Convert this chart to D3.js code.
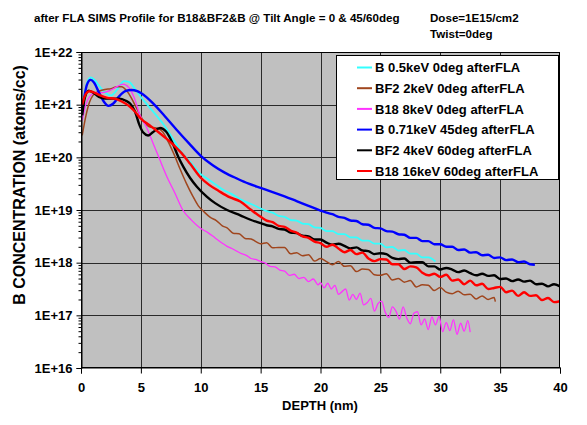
<!DOCTYPE html>
<html>
<head>
<meta charset="utf-8">
<script src="https://cdn.jsdelivr.net/npm/d3@7"></script>
<style>
  html, body { margin: 0; padding: 0; background: #ffffff; }
  svg { display: block; }
  text { font-family: "Liberation Sans", Arial, Helvetica, sans-serif; font-weight: bold; fill: #000; }
</style>
</head>
<body>
<svg id="chart" width="587" height="425"></svg>
<script>
// SIMS boron profiles after FLA: depth (nm) vs concentration (atoms/cc)

const seriesNames = [
  "B 0.5keV 0deg afterFLA",
  "BF2 2keV 0deg afterFLA",
  "B18 8keV 0deg afterFLA",
  "B 0.71keV 45deg afterFLA",
  "BF2 4keV 60deg afterFLA",
  "B18 16keV 60deg afterFLA"
];
const seriesColors = ["#33ffff", "#a0461e", "#ff33ff", "#0000ff", "#000000", "#ff0000"];
const seriesWidths = [1.8, 1.5, 1.3, 2.4, 2.4, 2.4];

const xTicks = [0, 5, 10, 15, 20, 25, 30, 35, 40];
const yTicks = [1e16, 1e17, 1e18, 1e19, 1e20, 1e21, 1e22];

// [depth nm, concentration atoms/cc]
const b05keV0deg = [
  [0.1, 8.0e20], [0.3, 1.6e21], [0.5, 2.6e21], [0.8, 3.3e21], [1.1, 3.0e21], [1.5, 2.3e21],
  [2.0, 1.7e21], [2.5, 1.5e21], [3.0, 1.9e21], [3.6, 2.8e21], [4.0, 2.7e21], [4.5, 2.0e21],
  [5.0, 1.4e21], [5.7, 9.0e20], [6.3, 6.2e20], [7.0, 3.9e20], [7.7, 2.2e20], [8.4, 1.25e20],
  [9.1, 8.3e19], [10.0, 4.8e19], [10.5, 4.0e19], [11.2, 3.1e19], [11.9, 2.4e19], [12.6, 2.0e19],
  [13.3, 1.6e19], [14.2, 1.3e19], [15.0, 1.07e19], [15.5, 9.55e18], [16.0, 8.91e18], [16.5, 7.76e18],
  [17.0, 7.41e18], [17.5, 6.46e18], [18.0, 6.31e18], [18.5, 5.50e18], [19.0, 5.37e18], [19.5, 4.68e18],
  [20.0, 4.57e18], [20.5, 3.98e18], [21.0, 3.98e18], [21.5, 3.47e18], [22.0, 3.47e18], [22.5, 3.02e18],
  [23.0, 3.02e18], [23.5, 2.63e18], [24.0, 2.63e18], [24.5, 2.29e18], [25.0, 2.29e18], [25.5, 1.95e18],
  [26.0, 2.00e18], [26.5, 1.70e18], [27.0, 1.74e18], [27.5, 1.48e18], [28.0, 1.48e18], [28.5, 1.26e18],
  [29.0, 1.26e18], [29.6, 1.05e18]
];

const bf22keV0deg = [
  [0.1, 2.6e20], [0.4, 6.0e20], [0.7, 1.1e21], [1.0, 1.5e21], [1.5, 1.8e21], [2.0, 1.95e21],
  [2.5, 2.0e21], [3.0, 2.2e21], [3.4, 2.2e21], [3.8, 1.85e21], [4.2, 1.35e21], [4.7, 8.0e20],
  [5.2, 5.0e20], [5.7, 3.8e20], [6.3, 3.6e20], [6.8, 3.1e20], [7.3, 1.95e20], [7.8, 1.1e20],
  [8.3, 5.8e19], [8.8, 3.2e19], [9.3, 1.9e19], [9.8, 1.2e19], [10.3, 9.12e18], [10.8, 7.24e18],
  [11.3, 6.31e18], [11.8, 5.01e18], [12.2, 4.57e18], [12.7, 3.63e18], [13.2, 3.55e18], [13.7, 2.88e18],
  [14.2, 2.82e18], [14.6, 2.51e18], [15.0, 2.29e18], [15.5, 2.40e18], [16.0, 1.91e18], [16.5, 1.95e18],
  [17.0, 1.95e18], [17.5, 1.48e18], [18.0, 1.55e18], [18.5, 1.35e18], [19.0, 1.41e18], [19.5, 1.07e18],
  [20.0, 1.20e18], [20.5, 1.05e18], [21.0, 9.12e17], [21.5, 1.05e18], [22.0, 8.51e17], [22.5, 8.71e17],
  [23.0, 6.76e17], [23.5, 7.59e17], [24.0, 7.41e17], [24.5, 5.89e17], [25.0, 5.75e17], [25.5, 6.17e17],
  [26.0, 4.68e17], [26.5, 5.01e17], [27.0, 4.27e17], [27.5, 4.57e17], [28.0, 3.47e17], [28.5, 3.80e17],
  [29.0, 3.72e17], [29.5, 2.95e17], [30.0, 3.39e17], [30.5, 2.75e17], [31.0, 2.57e17], [31.5, 2.88e17],
  [32.0, 2.45e17], [32.5, 2.51e17], [33.0, 2.04e17], [33.5, 2.34e17], [34.0, 2.00e17], [34.5, 2.19e17],
  [34.6, 1.82e17]
];

const b188keV0deg = [
  [0.1, 5.0e20], [0.4, 1.0e21], [0.8, 1.5e21], [1.2, 1.7e21], [1.8, 1.7e21], [2.4, 1.85e21],
  [3.0, 2.2e21], [3.5, 2.45e21], [4.0, 2.1e21], [4.5, 1.25e21], [4.9, 6.5e20], [5.5, 3.6e20],
  [6.0, 1.9e20], [6.5, 1.0e20], [7.3, 3.7e19], [7.8, 2.2e19], [8.5, 1.0e19], [9.2, 6.5e18],
  [10.0, 4.47e18], [10.6, 3.72e18], [11.2, 2.95e18], [11.8, 2.34e18], [12.2, 2.04e18], [12.6, 1.86e18],
  [13.0, 1.66e18], [13.4, 1.48e18], [13.8, 1.38e18], [14.2, 1.20e18], [14.6, 1.15e18], [15.0, 1.05e18],
  [15.4, 9.77e17], [15.8, 8.51e17], [16.2, 8.32e17], [16.6, 7.24e17], [17.0, 6.92e17], [17.4, 5.75e17],
  [17.8, 6.03e17], [18.2, 5.01e17], [18.6, 5.25e17], [19.0, 4.37e17], [19.4, 4.90e17], [19.8, 3.80e17],
  [20.0, 4.17e17], [20.3, 3.31e17], [20.6, 4.07e17], [20.9, 3.16e17], [21.2, 3.72e17], [21.5, 2.51e17],
  [21.8, 2.82e17], [22.1, 3.16e17], [22.4, 1.95e17], [22.7, 2.51e17], [23.0, 2.00e17], [23.3, 2.63e17],
  [23.6, 1.58e17], [23.9, 1.74e17], [24.2, 2.09e17], [24.5, 1.20e17], [24.8, 1.66e17], [25.1, 1.86e17],
  [25.4, 1.15e17], [25.7, 9.12e16], [26.0, 1.45e17], [26.3, 1.20e17], [26.6, 8.51e16], [26.9, 1.45e17],
  [27.2, 8.91e16], [27.5, 6.92e16], [27.8, 1.10e17], [28.1, 1.17e17], [28.4, 6.61e16], [28.7, 8.51e16],
  [29.0, 5.37e16], [29.3, 9.33e16], [29.6, 6.61e16], [29.9, 9.55e16], [30.2, 4.90e16], [30.5, 7.24e16],
  [30.8, 5.13e16], [31.1, 8.32e16], [31.4, 4.37e16], [31.7, 7.08e16], [32.0, 5.01e16], [32.3, 7.94e16],
  [32.5, 4.79e16]
];

const b071keV45deg = [
  [0.1, 7.4e20], [0.3, 1.5e21], [0.5, 2.4e21], [0.8, 2.95e21], [1.1, 2.6e21], [1.5, 1.7e21],
  [1.9, 1.15e21], [2.3, 9.5e20], [2.7, 1.05e21], [3.2, 1.45e21], [3.7, 1.8e21], [4.2, 1.9e21],
  [4.7, 1.8e21], [5.0, 1.66e21], [6.0, 1.07e21], [7.0, 6.03e20], [8.0, 3.31e20], [9.0, 1.86e20],
  [10.0, 1.07e20], [11.0, 7.08e19], [12.0, 5.13e19], [13.0, 3.98e19], [14.0, 3.16e19], [15.0, 2.63e19],
  [16.0, 2.19e19], [17.0, 1.82e19], [18.0, 1.48e19], [19.0, 1.20e19], [20.0, 9.77e18], [20.5, 8.91e18],
  [21.0, 8.32e18], [21.5, 7.41e18], [22.0, 7.08e18], [22.5, 6.31e18], [23.0, 6.17e18], [23.5, 5.37e18],
  [24.0, 5.25e18], [24.5, 4.57e18], [25.0, 4.47e18], [25.5, 3.98e18], [26.0, 3.89e18], [26.5, 3.47e18],
  [27.0, 3.39e18], [27.5, 2.95e18], [28.0, 2.95e18], [28.5, 2.57e18], [29.0, 2.57e18], [29.5, 2.24e18],
  [30.0, 2.24e18], [30.5, 2.00e18], [31.0, 2.00e18], [31.5, 1.74e18], [32.0, 1.78e18], [32.5, 1.55e18],
  [33.0, 1.58e18], [33.5, 1.38e18], [34.0, 1.41e18], [34.5, 1.23e18], [35.0, 1.26e18], [35.5, 1.12e18],
  [36.0, 1.15e18], [36.5, 1.02e18], [37.0, 1.05e18], [37.5, 9.33e17], [37.9, 9.12e17]
];

const bf24keV60deg = [
  [0.1, 6.3e20], [0.3, 1.3e21], [0.65, 1.85e21], [1.0, 1.7e21], [1.5, 1.4e21], [2.0, 1.3e21],
  [2.6, 1.3e21], [3.2, 1.3e21], [3.7, 1.2e21], [4.1, 1.05e21], [4.5, 7.5e20], [4.9, 4.0e20],
  [5.2, 2.95e20], [5.6, 2.6e20], [6.0, 3.0e20], [6.6, 3.6e20], [7.1, 3.1e20], [7.7, 1.75e20],
  [8.1, 1.05e20], [8.55, 6.6e19], [9.1, 4.1e19], [9.66, 2.8e19], [10.5, 1.8e19], [11.2, 1.35e19],
  [12.2, 1.0e19], [13.3, 7.9e18], [14.1, 6.6e18], [15.0, 5.62e18], [15.5, 5.13e18], [16.0, 4.90e18],
  [16.5, 4.37e18], [17.0, 4.27e18], [17.5, 3.72e18], [18.0, 3.63e18], [18.5, 3.24e18], [19.0, 3.16e18],
  [19.5, 2.75e18], [20.0, 2.75e18], [20.5, 2.40e18], [21.0, 2.19e18], [21.5, 2.29e18], [22.0, 2.09e18],
  [22.5, 1.86e18], [23.0, 1.95e18], [23.5, 1.70e18], [24.0, 1.66e18], [24.5, 1.45e18], [25.0, 1.51e18],
  [25.5, 1.45e18], [26.0, 1.23e18], [26.5, 1.17e18], [27.0, 1.20e18], [27.5, 1.00e18], [28.0, 1.02e18],
  [28.5, 1.02e18], [29.0, 8.51e17], [29.5, 8.51e17], [30.0, 7.41e17], [30.5, 7.94e17], [31.0, 7.41e17],
  [31.5, 6.61e17], [32.0, 7.08e17], [32.5, 6.31e17], [33.0, 5.75e17], [33.5, 6.17e17], [34.0, 5.62e17],
  [34.5, 5.75e17], [35.0, 4.90e17], [35.5, 5.01e17], [36.0, 4.47e17], [36.5, 4.79e17], [37.0, 4.37e17],
  [37.5, 4.57e17], [38.0, 3.89e17], [38.5, 3.98e17], [39.0, 3.55e17], [39.5, 3.89e17], [40.0, 3.55e17]
];

const b1816keV60deg = [
  [0.1, 1.0e21], [0.4, 1.6e21], [0.7, 1.8e21], [1.1, 1.7e21], [1.6, 1.5e21], [2.2, 1.35e21],
  [2.8, 1.3e21], [3.4, 1.15e21], [4.0, 9.5e20], [4.5, 7.4e20], [5.0, 5.4e20], [5.7, 4.1e20],
  [6.4, 3.1e20], [7.0, 2.4e20], [7.7, 1.75e20], [8.4, 1.2e20], [9.1, 7.6e19], [10.0, 4.1e19],
  [10.7, 3.0e19], [11.5, 2.3e19], [12.4, 1.75e19], [13.3, 1.45e19], [14.1, 1.05e19], [15.0, 7.41e18],
  [15.5, 6.31e18], [16.0, 5.89e18], [16.5, 5.01e18], [17.0, 4.79e18], [17.5, 4.07e18], [18.0, 3.72e18],
  [18.5, 3.16e18], [19.0, 2.95e18], [19.5, 2.51e18], [20.0, 2.34e18], [20.5, 2.00e18], [21.0, 2.19e18],
  [21.5, 1.86e18], [22.0, 1.58e18], [22.5, 1.74e18], [23.0, 1.45e18], [23.5, 1.55e18], [24.0, 1.20e18],
  [24.5, 1.07e18], [25.0, 1.17e18], [25.5, 1.15e18], [26.0, 9.33e17], [26.5, 9.33e17], [27.0, 7.59e17],
  [27.5, 8.51e17], [28.0, 8.13e17], [28.5, 6.46e17], [29.0, 5.75e17], [29.5, 6.17e17], [30.0, 5.37e17],
  [30.5, 5.89e17], [31.0, 4.57e17], [31.5, 4.79e17], [32.0, 3.89e17], [32.5, 4.57e17], [33.0, 3.72e17],
  [33.5, 3.98e17], [34.0, 3.16e17], [34.5, 3.31e17], [35.0, 3.47e17], [35.5, 2.75e17], [36.0, 2.95e17],
  [36.5, 2.34e17], [37.0, 2.75e17], [37.5, 2.34e17], [38.0, 2.40e17], [38.5, 1.95e17], [39.0, 2.14e17],
  [39.5, 1.78e17], [40.0, 1.86e17]
];

const seriesData = [b05keV0deg, bf22keV0deg, b188keV0deg, b071keV45deg, bf24keV60deg, b1816keV60deg];

const svg = d3.select("#chart");
const plot = { left: 81, right: 560, top: 52, bottom: 368 };

const x = d3.scaleLinear().domain([0, 40]).range([plot.left, plot.right]);
const y = d3.scaleLog().domain([1e16, 1e22]).range([plot.bottom, plot.top]);

// titles
svg.append("text").attr("x", 34).attr("y", 22).style("font-size", "11.6px")
  .text("after FLA SIMS Profile for B18&BF2&B @ Tilt Angle = 0 & 45/60deg");
svg.append("text").attr("x", 430).attr("y", 22).style("font-size", "11.6px").text("Dose=1E15/cm2");
svg.append("text").attr("x", 430).attr("y", 38).style("font-size", "11.6px").text("Twist=0deg");

// plot background
svg.append("rect")
  .attr("x", plot.left).attr("y", plot.top)
  .attr("width", plot.right - plot.left).attr("height", plot.bottom - plot.top)
  .attr("fill", "#c0c0c0");

// gridlines
const grid = svg.append("g").attr("stroke", "#2a2a2a").attr("stroke-width", 1);
xTicks.slice(1, -1).forEach(t => {
  const px = Math.round(x(t)) + 0.5;
  grid.append("line").attr("x1", px).attr("x2", px).attr("y1", plot.top).attr("y2", plot.bottom);
});
yTicks.slice(1, -1).forEach(t => {
  const py = Math.round(y(t)) + 0.5;
  grid.append("line").attr("x1", plot.left).attr("x2", plot.right).attr("y1", py).attr("y2", py);
});

// clip for the profiles
svg.append("defs").append("clipPath").attr("id", "plotClip")
  .append("rect").attr("x", plot.left).attr("y", plot.top)
  .attr("width", plot.right - plot.left).attr("height", plot.bottom - plot.top);

const line = d3.line()
  .x(d => x(d[0]))
  .y(d => y(d[1]))
  .curve(d3.curveMonotoneX);

const lines = svg.append("g").attr("clip-path", "url(#plotClip)");
seriesData.forEach((data, i) => {
  lines.append("path")
    .datum(data)
    .attr("fill", "none")
    .attr("stroke", seriesColors[i])
    .attr("stroke-width", seriesWidths[i])
    .attr("stroke-linejoin", "round")
    .attr("d", line);
});

// plot frame
svg.append("rect")
  .attr("x", plot.left + 0.5).attr("y", plot.top + 0.5)
  .attr("width", plot.right - plot.left - 1).attr("height", plot.bottom - plot.top - 1)
  .attr("fill", "none").attr("stroke", "#000").attr("stroke-width", 1);

// y axis: decade ticks plus minor log ticks
const minorY = [];
for (let e = 16; e < 22; e++) for (let m = 2; m <= 9; m++) minorY.push(m * Math.pow(10, e));

const yMinor = svg.append("g").attr("transform", `translate(${plot.left + 0.5},0)`)
  .call(d3.axisLeft(y).tickValues(minorY).tickSize(3).tickFormat(""));
yMinor.select(".domain").remove();

const yAxis = svg.append("g").attr("transform", `translate(${plot.left + 0.5},0)`)
  .call(d3.axisLeft(y).tickValues(yTicks).tickSize(5).tickPadding(4)
    .tickFormat(d => "1E+" + Math.round(Math.log10(d))));
yAxis.select(".domain").attr("stroke", "#000");
yAxis.selectAll("text").style("font-size", "13px").style("font-family", "'Liberation Sans', Arial, sans-serif")
  .style("font-weight", "bold").attr("fill", "#000");

const xAxis = svg.append("g").attr("transform", `translate(0,${plot.bottom - 0.5})`)
  .call(d3.axisBottom(x).tickValues(xTicks).tickSize(6).tickPadding(9).tickFormat(d3.format("d")));
xAxis.select(".domain").attr("stroke", "#000");
xAxis.selectAll("text").style("font-size", "13px").style("font-family", "'Liberation Sans', Arial, sans-serif")
  .style("font-weight", "bold").attr("fill", "#000");

// axis titles
svg.append("text").attr("x", 320).attr("y", 410).attr("text-anchor", "middle")
  .style("font-size", "13px").text("DEPTH (nm)");
svg.append("text")
  .attr("transform", `translate(25,${(52 + 318) / 2}) rotate(-90)`)
  .attr("text-anchor", "middle")
  .style("font-size", "16px").text("B CONCENTRATION (atoms/cc)");

// legend
const legend = svg.append("g");
legend.append("rect").attr("x", 336.5).attr("y", 55.5).attr("width", 222).attr("height", 124)
  .attr("fill", "#fff").attr("stroke", "#000").attr("stroke-width", 1);
seriesNames.forEach((name, i) => {
  const cy = 67.5 + i * 20.7;
  legend.append("line").attr("x1", 357).attr("x2", 372).attr("y1", cy).attr("y2", cy)
    .attr("stroke", seriesColors[i]).attr("stroke-width", 2);
  legend.append("text").attr("x", 375).attr("y", cy + 4.7).style("font-size", "13px").text(name);
});
</script>
</body>
</html>
